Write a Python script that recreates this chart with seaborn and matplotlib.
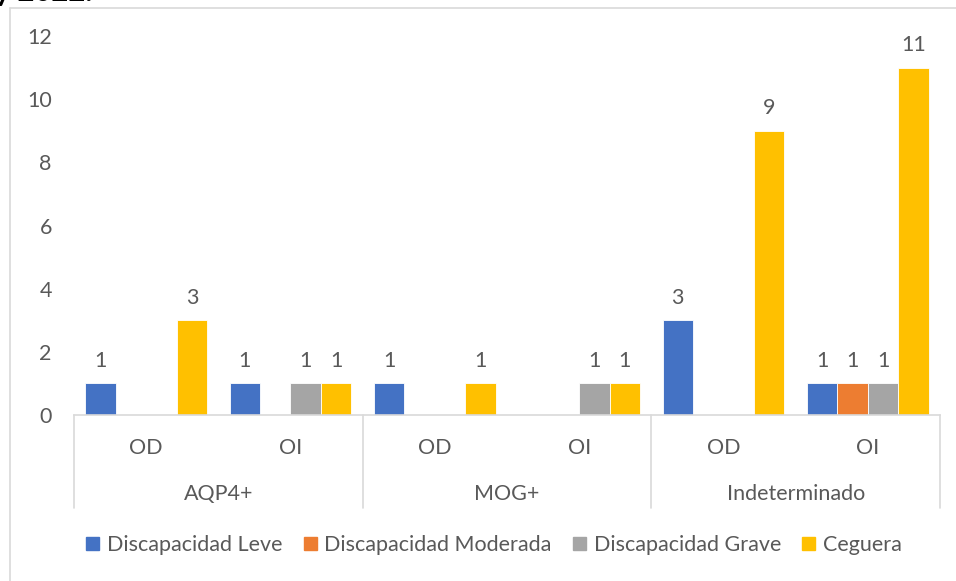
import matplotlib
matplotlib.use("Agg")
import matplotlib.pyplot as plt
import seaborn as sns
import pandas as pd
from matplotlib.lines import Line2D

groups = ["AQP4+", "MOG+", "Indeterminado"]
eyes = ["OD", "OI"]
series = ["Discapacidad Leve", "Discapacidad Moderada", "Discapacidad Grave", "Ceguera"]
leve = [1, 1, 1, 0, 3, 1]
moderada = [0, 0, 0, 0, 0, 1]
grave = [0, 1, 0, 1, 0, 1]
ceguera = [3, 1, 1, 1, 9, 11]
colors = ["#4472C4", "#ED7D31", "#A5A5A5", "#FFC000"]

cats = [f"{g}|{e}" for g in groups for e in eyes]
rows = []
for name, vals in zip(series, [leve, moderada, grave, ceguera]):
    for c, v in zip(cats, vals):
        rows.append({"cat": c, "serie": name, "valor": v})
df = pd.DataFrame(rows)

sns.set_style("white")
plt.rcParams["font.family"] = ["Lato", "DejaVu Sans"]
TXT = "#595959"
FS = 15.5

W, H = 956, 581
fig = plt.figure(figsize=(W / 100, H / 100), dpi=100)
ax = fig.add_axes([74 / W, 1 - 415 / H, (940 - 74) / W, (415 - 36) / H])

sns.barplot(data=df, x="cat", y="valor", hue="serie", order=cats, hue_order=series,
            palette=colors, width=0.845, saturation=1, ax=ax, legend=False,
            edgecolor="white", linewidth=0.6)

ax.set_ylim(0, 12)
ax.set_xlim(-0.5, len(cats) - 0.5)
ax.set_yticks(range(0, 13, 2))
ax.tick_params(axis="y", length=0, pad=16, labelsize=FS, labelcolor=TXT)
ax.set_xticks([])
ax.set_xlabel("")
ax.set_ylabel("")
for s in ["left", "right", "top"]:
    ax.spines[s].set_visible(False)
ax.spines["bottom"].set_color("#D9D9D9")
ax.spines["bottom"].set_linewidth(1.2)

# data labels
for cont in ax.containers:
    labels = [f"{int(b.get_height())}" if b.get_height() > 0 else "" for b in cont]
    ax.bar_label(cont, labels=labels, padding=9, fontsize=FS, color=TXT)

# multi-level category axis
tr = ax.get_xaxis_transform()
span = 415 - 36
for i, c in enumerate(cats):
    ax.text(i, -(448 - 415) / span, c.split("|")[1], transform=tr,
            ha="center", va="center", fontsize=FS, color=TXT, clip_on=False)
for gi, g in enumerate(groups):
    ax.text(gi * 2 + 0.5, -(494 - 415) / span, g, transform=tr,
            ha="center", va="center", fontsize=FS, color=TXT, clip_on=False)
for b in [-0.5, 1.5, 3.5, 5.5]:
    ax.add_line(Line2D([b, b], [0, -(508 - 415) / span], transform=tr,
                       color="#D9D9D9", lw=1.2, clip_on=False))

# legend
handles = [plt.Rectangle((0, 0), 1, 1, color=c) for c in colors]
fig.legend(handles, series, loc="center", bbox_to_anchor=(494 / W, 1 - 545 / H),
           ncol=4, frameon=False, fontsize=FS, labelcolor=TXT,
           handlelength=0.6, handleheight=0.6, handletextpad=0.35, columnspacing=1.0)

# chart area border (cropped)
fig.add_artist(Line2D([10 / W, 10 / W], [0, 1 - 8 / H], transform=fig.transFigure,
                      color="#D9D9D9", lw=1.2))
fig.add_artist(Line2D([10 / W, 1], [1 - 8 / H, 1 - 8 / H], transform=fig.transFigure,
                      color="#D9D9D9", lw=1.2))

# clipped title fragment at top
fig.text(-5 / W, 1 - 0.5 / H, "y 2022.", fontsize=21, fontweight="bold",
         color="black", va="baseline", ha="left")

fig.savefig("out.png", dpi=100)
